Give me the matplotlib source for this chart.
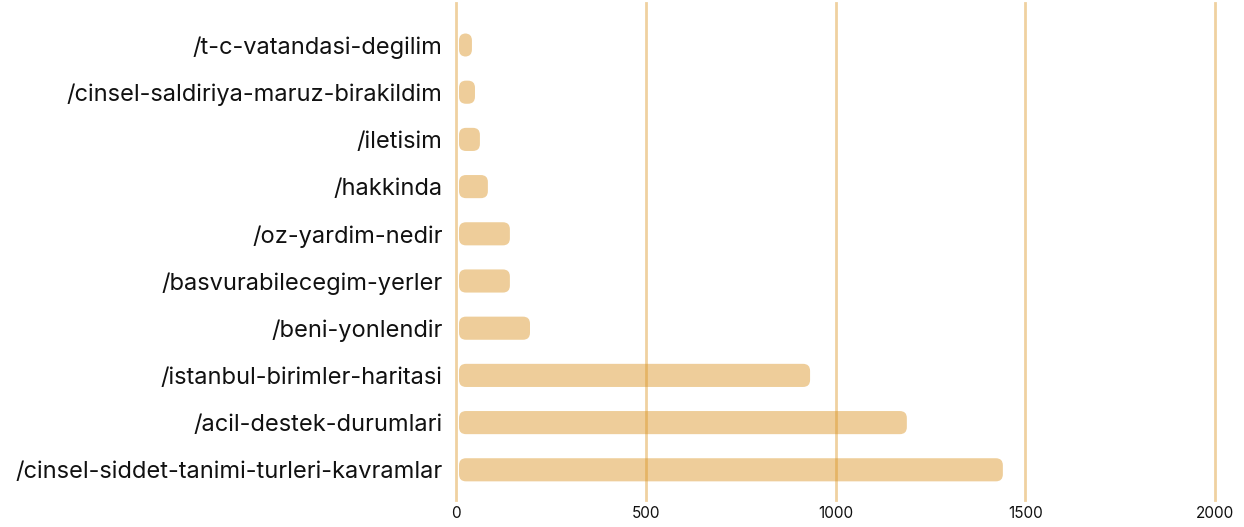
import matplotlib
matplotlib.use('Agg')
import matplotlib.pyplot as plt
from matplotlib.patches import FancyBboxPatch

pages = [
    '/cinsel-siddet-tanimi-turleri-kavramlar',
    '/acil-destek-durumlari',
    '/istanbul-birimler-haritasi',
    '/beni-yonlendir',
    '/basvurabilecegim-yerler',
    '/oz-yardim-nedir',
    '/hakkinda',
    '/iletisim',
    '/cinsel-saldiriya-maruz-birakildim',
    '/t-c-vatandasi-degilim',
]
views = [1441, 1188, 933, 195, 142, 142, 84, 63, 50, 42]
x_ticks = [0, 500, 1000, 1500, 2000]

orange = '#DA921F'

plt.rcParams['font.family'] = ['Inter', 'DejaVu Sans']

W, H = 1244, 527
fig = plt.figure(figsize=(W / 100, H / 100), dpi=100)
ax = fig.add_axes([456 / W, 27 / H, (1215 - 456) / W, (500 - 3 ) / H])
ax.set_xlim(0, 2000)
ax.set_ylim(-0.64, 9.89)

for x in x_ticks:
    ax.axvline(x, color=orange, alpha=0.42, lw=2, zorder=1, clip_on=False)

# rounded bars, corner radius given in pixels
px_x = (1215 - 456) / 2000
px_y = 497 / 10.53
radius_px = 7
gap = 3 / px_x
rx = radius_px / px_x
ry = radius_px / px_y
for i, v in enumerate(views):
    h = 0.49
    p = FancyBboxPatch((gap, i - h / 2), v - gap, h,
                       boxstyle='round,pad=0,rounding_size=%f' % rx,
                       mutation_aspect=ry / rx,
                       fc=orange, alpha=0.45, ec='none', zorder=2)
    ax.add_patch(p)

ax.set_yticks(range(len(pages)))
ax.set_yticklabels(pages, fontsize=17, color='#111111')
ax.set_xticks(x_ticks)
ax.set_xticklabels([str(t) for t in x_ticks], fontsize=11, color='#111111')
ax.tick_params(axis='both', length=0)
ax.tick_params(axis='y', pad=9.5)
ax.tick_params(axis='x', pad=4)
for s in ax.spines.values():
    s.set_visible(False)

fig.savefig('out.png', dpi=100)
